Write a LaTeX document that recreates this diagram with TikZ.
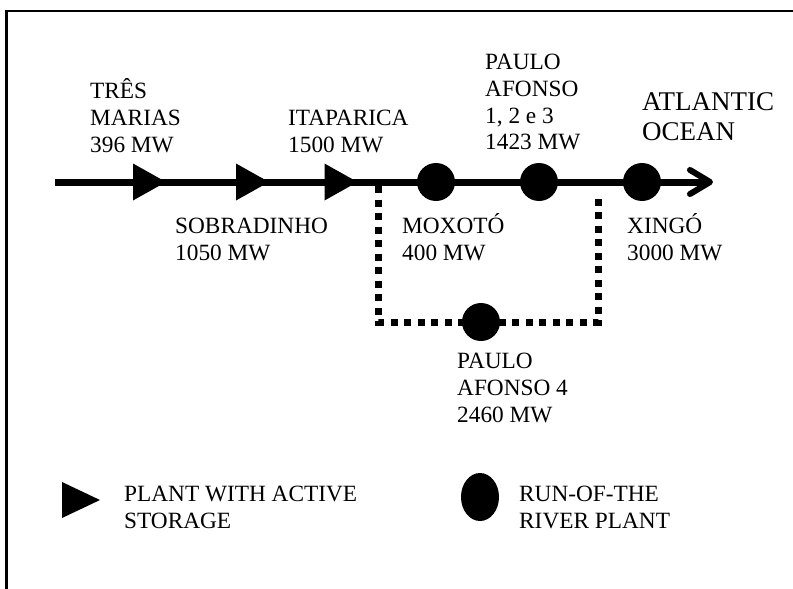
\documentclass[tikz,border=0pt]{standalone}
\usepackage{fontspec}
\setmainfont{Liberation Serif}
\usetikzlibrary{shapes.geometric}
\newcommand{\lines}[1]{\begin{tabular}[t]{@{}l@{}}#1\end{tabular}}
\begin{document}
\begin{tikzpicture}[x=1pt,y=-1pt,
  lbl/.style={anchor=base west, inner sep=0pt, font=\fontsize{23.3}{27}\selectfont},
  big/.style={anchor=base west, inner sep=0pt, font=\fontsize{27}{30}\selectfont},
  ror/.style={circle, fill=black, minimum size=38pt, inner sep=0pt},
  river/.style={line width=7pt},
  tipstyle/.style={line width=6pt, line cap=round, line join=round},
  bypass/.style={line width=7pt, dash pattern=on 7pt off 6.5pt},
  frame/.style={line width=2.5pt}]
\useasboundingbox (0,0) rectangle (793,589);
% frame
\coordinate (fbl) at (6.5,589);
\coordinate (ftl) at (6.5,11);
\coordinate (ftr) at (793,11);
\draw[frame] (fbl) -- (ftl) -- (ftr);
% river
\coordinate (src) at (55,182);
\coordinate (mouth) at (709,182);
\draw[river] (src) -- (mouth);
\draw[tipstyle] (mouth) ++(-19,-12) -- ++(20,12) -- ++(-20,12);
% bypass to Paulo Afonso 4
\coordinate (b1) at (378,186);
\coordinate (b2) at (378,322);
\coordinate (b3) at (598,322);
\coordinate (b4) at (598,193);
\draw[bypass] (b1) -- (b2) -- (b3) -- (b4);
% storage plants (triangles)
\coordinate (t1) at (149.5,182);
\coordinate (t2) at (252.5,182);
\coordinate (t3) at (341,182);
\foreach \t in {t1,t2,t3}
  \fill (\t) ++(-16.5,-18.5) -- ++(33,18.5) -- ++(-33,18.5) -- cycle;
% run-of-the-river plants
\node[ror] (mox) at (436,182) {};
\node[ror] (pa123) at (539,182) {};
\node[ror] (xin) at (642,182) {};
\node[ror] (pa4) at (481,322) {};
% labels
\node[lbl] (lt1) at (90,98) {\lines{TRÊS\\MARIAS\\396 MW}};
\node[lbl] (lt3) at (288,125) {\lines{ITAPARICA\\1500 MW}};
\node[lbl] (lt2) at (175,233) {\lines{SOBRADINHO\\1050 MW}};
\node[lbl] (lmox) at (402,233) {\lines{MOXOTÓ\\400 MW}};
\node[lbl] (lpa123) at (485,69) {\lines{PAULO\\AFONSO\\1, 2 e 3\\1423 MW}};
\node[big] (locean) at (642,110) {\lines{ATLANTIC\\OCEAN}};
\node[lbl] (lxin) at (627,233) {\lines{XINGÓ\\3000 MW}};
\node[lbl] (lpa4) at (457,368) {\lines{PAULO\\AFONSO 4\\2460 MW}};
% legend
\coordinate (legt) at (81,500);
\fill (legt) ++(-19,-18) -- ++(38,18) -- ++(-38,18) -- cycle;
\node[lbl] (legtl) at (124,501) {\lines{PLANT WITH ACTIVE\\STORAGE}};
\node[ellipse, fill=black, minimum width=38pt, minimum height=48pt, inner sep=0pt] (legc) at (480,497) {};
\node[lbl] (legcl) at (519,501) {\lines{RUN-OF-THE\\RIVER PLANT}};
\end{tikzpicture}
\end{document}
